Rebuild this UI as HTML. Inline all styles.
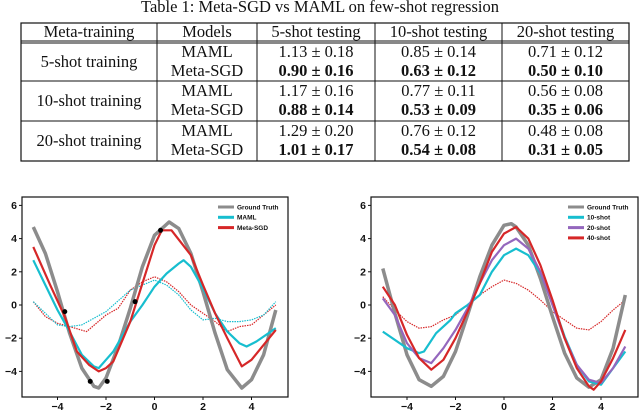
<!DOCTYPE html>
<html><head><meta charset="utf-8"><style>
body{margin:0;background:#fff;}
svg{display:block;}
.t{font-family:"Liberation Serif",serif;font-size:16.5px;fill:#111;}
.b{font-weight:bold;}
.tk{font-family:"Liberation Sans",sans-serif;font-size:10.5px;font-weight:bold;fill:#111;}
.lg{font-family:"Liberation Sans",sans-serif;font-size:6.5px;font-weight:bold;fill:#111;}
</style></head><body>
<svg id="s" width="640" height="412" xmlns="http://www.w3.org/2000/svg">
<g id="table"></g>
<g id="left"></g>
<g id="right"></g>
</svg>
<script>
// ---- table data
const tableTitle = "Table 1: Meta-SGD vs MAML on few-shot regression";
const headers = ["Meta-training","Models","5-shot testing","10-shot testing","20-shot testing"];
const groups = ["5-shot training","10-shot training","20-shot training"];
const mamlVals = [["1.13 ± 0.18","0.85 ± 0.14","0.71 ± 0.12"],["1.17 ± 0.16","0.77 ± 0.11","0.56 ± 0.08"],["1.29 ± 0.20","0.76 ± 0.12","0.48 ± 0.08"]];
const sgdVals = [["0.90 ± 0.16","0.63 ± 0.12","0.50 ± 0.10"],["0.88 ± 0.14","0.53 ± 0.09","0.35 ± 0.06"],["1.01 ± 0.17","0.54 ± 0.08","0.31 ± 0.05"]];

// ---- left chart data
const xTicks = [-4,-2,0,2,4];
const yTicks = [6,4,2,0,-2,-4];
const L_gtX = [-5,-4.5,-4,-3.5,-3,-2.5,-2.3,-2,-1.5,-1,-0.5,0,0.6,1,1.5,2,2.5,3,3.6,4,4.5,5];
const L_gtY = [4.7,3.1,0.8,-1.7,-3.8,-4.9,-5,-4.4,-2.5,-0.2,2.3,4.2,5,4.6,3.1,0.8,-1.7,-3.9,-5,-4.5,-3.0,-0.3];
const L_mamlX = [-5,-4.5,-4,-3.5,-3,-2.5,-2.3,-2,-1.7,-1.5,-1,-0.5,0,0.5,1,1.2,1.5,2,2.5,3,3.5,3.8,4.2,5];
const L_mamlY = [2.7,1.2,-0.3,-1.6,-3,-3.7,-3.8,-3.3,-2.8,-2.3,-1,0,1.1,1.9,2.5,2.7,2.3,1,-0.5,-1.6,-2.3,-2.5,-2.2,-1.4];
const L_sgdX = [-5,-4.3,-3.7,-3.2,-2.7,-2.3,-2,-1.7,-1,-0.5,0,0.3,0.7,1.5,2,2.5,3,3.6,4,5];
const L_sgdY = [3.5,1.2,-0.7,-2.8,-3.6,-4.0,-3.8,-3.4,-1,1.3,3.6,4.5,4.5,3,1.2,-0.5,-2,-3.7,-3.3,-1.5];
const L_mamlPreX = [-5,-4,-3.5,-3,-2,-1,0,0.5,1,1.5,2,2.5,3,3.5,4,4.5,5];
const L_mamlPreY = [0.2,-1.2,-1.3,-1.2,-0.4,0.9,1.5,1.2,0.6,-0.3,-0.9,-0.8,-1.0,-1.0,-0.9,-0.6,0.2];
const L_sgdPreX = [-5,-4.5,-4,-3.5,-2.8,-2,-1.5,-1,-0.5,0,0.5,1,1.5,2,2.5,3,3.5,4,4.5,5];
const L_sgdPreY = [0.2,-0.7,-1.1,-1.3,-1.6,-0.6,-0.2,0.9,1.4,1.7,1.4,0.8,0,-0.5,-1,-1.6,-1.3,-1.2,-0.6,0];
const L_ptsX = [-3.7,-2.65,-1.95,-0.8,0.25];
const L_ptsY = [-0.4,-4.6,-4.6,0.2,4.5];

// ---- right chart data
const R_gtX = [-5,-4.5,-4,-3.5,-3,-2.5,-2,-1.5,-1,-0.5,0,0.3,0.5,1,1.5,2,2.5,3,3.5,4,4.5,5];
const R_gtY = [2.2,-0.5,-3,-4.5,-4.9,-4.3,-2.8,-0.6,1.7,3.6,4.8,4.9,4.7,3.6,1.6,-0.7,-2.9,-4.4,-4.95,-4.5,-2.6,0.6];
const R_10X = [-5,-4,-3.5,-3.3,-2.8,-2.2,-2,-1.5,-1,-0.5,0,0.5,1,1.5,2,2.5,3,3.5,4,4.5,5];
const R_10Y = [-1.6,-2.6,-2.9,-2.8,-1.7,-0.9,-0.5,0,0.6,2,3.0,3.4,3.0,1.9,0.2,-1.9,-3.6,-4.6,-4.8,-3.8,-2.8];
const R_20X = [-5,-4.5,-4,-3.5,-3,-2.5,-2,-1.5,-1,-0.5,0,0.5,1,1.5,2,2.5,3,3.5,4,4.5,5];
const R_20Y = [0.4,-0.6,-2.3,-3.2,-3.5,-2.6,-1.5,-0.2,1.3,2.7,3.6,4.0,3.4,2,0,-2,-3.6,-4.5,-4.7,-3.8,-2.5];
const R_40X = [-5,-4.5,-4,-3.5,-3,-2.5,-2,-1.5,-1,-0.5,0,0.5,1,1.5,2,2.5,3,3.5,3.7,4,4.5,5];
const R_40Y = [1.1,0,-1.8,-3.2,-3.9,-3.3,-2,-0.4,1.3,3.2,4.3,4.7,4,2.4,0.3,-2,-3.8,-4.9,-5.1,-4.6,-3.2,-1.5];
const R_preX = [-5,-4.5,-4,-3.5,-3,-2.5,-2,-1.5,-1,-0.5,0,0.5,1,1.5,2,2.5,3,3.5,4,4.5,5];
const R_preY = [0.5,-0.3,-1,-1.4,-1.3,-0.9,-0.6,0,0.6,1.1,1.5,1.3,0.9,0.3,-0.4,-0.9,-1.4,-1.5,-1.0,-0.3,0.3];

const NS="http://www.w3.org/2000/svg";
function mk(parent,tag,attrs,text){const e=document.createElementNS(NS,tag);for(const k in attrs)e.setAttribute(k,attrs[k]);if(text!==undefined)e.textContent=text;parent.appendChild(e);return e;}

// table
const T=document.getElementById('table');
const colX=[21,157,257,375,502,629];
const rowY=[23,42,81,121,161];
let e=mk(T,'text',{x:320,y:12,'text-anchor':'middle',class:'t'},tableTitle);


e=mk(T,'rect',{x:21,y:23,width:608,height:138,fill:'none',stroke:'#111','stroke-width':1.2});


for(let i=1;i<5;i++){mk(T,'line',{x1:colX[i],x2:colX[i],y1:23,y2:161,stroke:'#111'});}
mk(T,'line',{x1:21,x2:629,y1:41,y2:41,stroke:'#111'});
mk(T,'line',{x1:21,x2:629,y1:43,y2:43,stroke:'#111'});
mk(T,'line',{x1:21,x2:629,y1:81,y2:81,stroke:'#111'});
mk(T,'line',{x1:21,x2:629,y1:121,y2:121,stroke:'#111'});
headers.forEach((h,i)=>{const el=mk(T,'text',{x:(colX[i]+colX[i+1])/2,y:37,'text-anchor':'middle',class:'t'},h);

});
groups.forEach((g,r)=>{const top=rowY[r+1];
const el=mk(T,'text',{x:89,y:top+25,'text-anchor':'middle',class:'t'},g);


mk(T,'text',{x:207,y:top+15,'text-anchor':'middle',class:'t'},'MAML');
mk(T,'text',{x:207,y:top+34,'text-anchor':'middle',class:'t'},'Meta-SGD');
for(let c=0;c<3;c++){const cx=(colX[c+2]+colX[c+3])/2;
const a=mk(T,'text',{x:cx,y:top+15,'text-anchor':'middle',class:'t'},mamlVals[r][c]);


const b=mk(T,'text',{x:cx,y:top+34,'text-anchor':'middle',class:'t b'},sgdVals[r][c]);

}
});

function chart(g,box,x0,series,points,legend){
  const sx=v=>x0+v*24.25, sy=v=>305-v*16.6;
  const r=mk(g,'rect',{x:box[0],y:197,width:box[1]-box[0],height:200,fill:'#fff',stroke:'#111','stroke-width':1.2});
  
  
  xTicks.forEach(t=>{mk(g,'line',{x1:sx(t),x2:sx(t),y1:397,y2:400,stroke:'#111'});
    const el=mk(g,'text',{x:sx(t),y:410,'text-anchor':'middle',class:'tk'},t<0?'−'+(-t):String(t));
    
    });
  yTicks.forEach(t=>{mk(g,'line',{x1:box[0]-3,x2:box[0],y1:sy(t),y2:sy(t),stroke:'#111'});
    const el=mk(g,'text',{x:box[0]-5,y:sy(t)+3.5,'text-anchor':'end',class:'tk'},t<0?'−'+(-t):String(t));
    
    });
  series.forEach(s=>{const d=s.x.map((v,i)=>(i?'L':'M')+sx(v).toFixed(1)+','+sy(s.y[i]).toFixed(1)).join('');
    const p=mk(g,'path',{d:d,fill:'none',stroke:s.c,'stroke-width':s.w,'stroke-dasharray':s.dash||'none','stroke-linejoin':'round'});
    
    });
  if(points){points.x.forEach((v,i)=>{const c=mk(g,'circle',{cx:sx(v),cy:sy(points.y[i]),r:2.5,fill:'#000'});
    
    });}
  legend.items.forEach((it,i)=>{const y=207+i*10.3;
    mk(g,'line',{x1:legend.x,x2:legend.x+16,y1:y,y2:y,stroke:it.c,'stroke-width':3});
    const el=mk(g,'text',{x:legend.x+19,y:y+2.3,class:'lg'},it.t);
    
    });
}
const GRAY='#8c8c8c',CY='#17becf',RD='#d62728',PU='#9467bd';
chart(document.getElementById('left'),[22,288],154.5,[
 {x:L_sgdPreX,y:L_sgdPreY,c:RD,w:1.2,dash:'1.5,1',n:'metasgd-prior-line'},
 {x:L_mamlPreX,y:L_mamlPreY,c:CY,w:1.2,dash:'1.5,1',n:'maml-prior-line'},
 {x:L_gtX,y:L_gtY,c:GRAY,w:3.5,n:'ground-truth-line'},
 {x:L_mamlX,y:L_mamlY,c:CY,w:2.2,n:'maml-line'},
 {x:L_sgdX,y:L_sgdY,c:RD,w:2.2,n:'metasgd-line'}],
 {x:L_ptsX,y:L_ptsY},
 {x:218,items:[{t:'Ground Truth',c:GRAY},{t:'MAML',c:CY},{t:'Meta-SGD',c:RD}]});
chart(document.getElementById('right'),[371,638],504,[
 {x:R_preX,y:R_preY,c:RD,w:1.2,dash:'1.5,1',n:'prior-line'},
 {x:R_gtX,y:R_gtY,c:GRAY,w:3.5,n:'ground-truth-line'},
 {x:R_10X,y:R_10Y,c:CY,w:2.2,n:'10-shot-line'},
 {x:R_20X,y:R_20Y,c:PU,w:2.2,n:'20-shot-line'},
 {x:R_40X,y:R_40Y,c:RD,w:2.2,n:'40-shot-line'}],
 null,
 {x:568,items:[{t:'Ground Truth',c:GRAY},{t:'10-shot',c:CY},{t:'20-shot',c:PU},{t:'40-shot',c:RD}]});
</script>
</body></html>
